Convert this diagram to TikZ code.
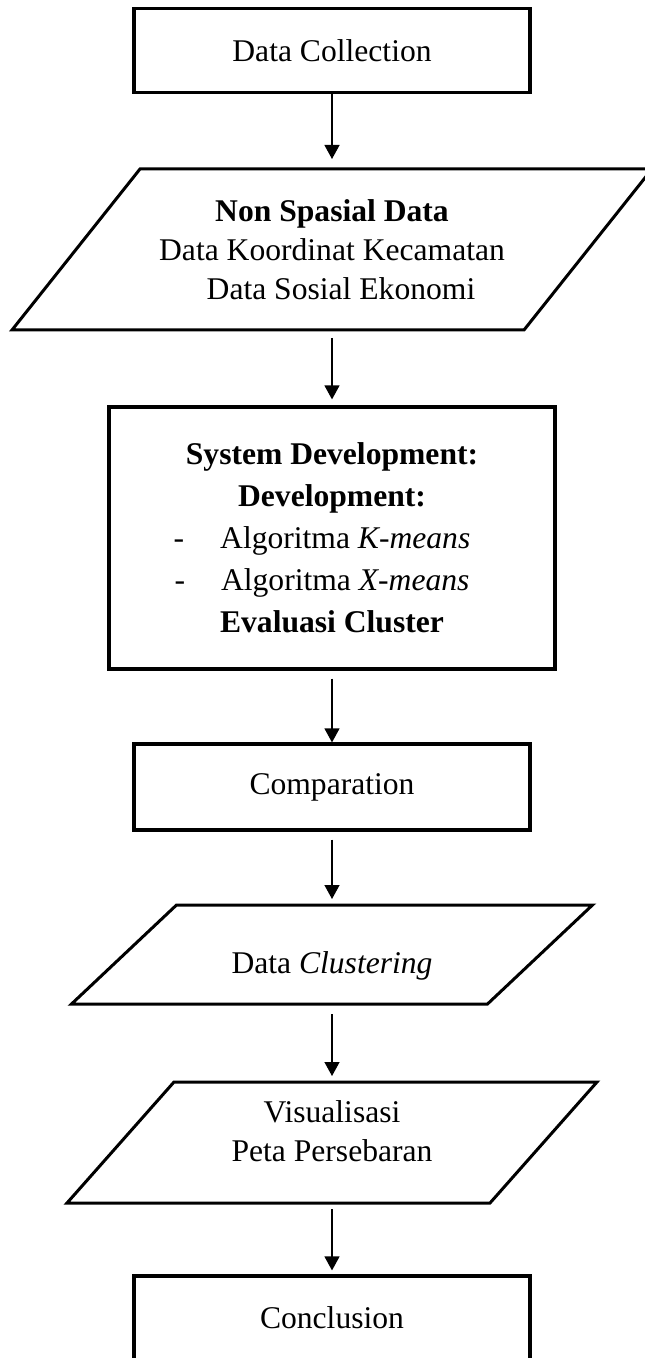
\documentclass[tikz,border=0pt]{standalone}
\usepackage{fontspec}
\setmainfont{Liberation Serif}
\usetikzlibrary{arrows.meta}

\begin{document}
\begin{tikzpicture}[node distance=100pt, >={Triangle[width=7.5pt,length=7pt]}, line width=0.65pt,
    font=\fontsize{15.8pt}{21pt}\selectfont]
    \tikzstyle{box}=[draw, line width=1.6pt, minimum width=198pt, minimum height=42pt, align=center]
    \tikzstyle{io}=[outer sep=0pt, align=center, font=\fontsize{15.8pt}{19.5pt}\selectfont]
    \tikzstyle{slant}=[line width=1.5pt, line join=miter]
    \useasboundingbox (0,0) rectangle (322pt,-679pt);
    \node[box] (collect) at (166pt,-25.25pt) {Data Collection};
    \node[io, below of=collect, yshift=0.5pt, minimum width=256pt, minimum height=80.5pt] (nonspasial) {\textbf{Non Spasial Data}\\Data Koordinat Kecamatan\\\hspace*{9pt}Data Sosial Ekonomi};
    \node[box, below of=nonspasial, yshift=-44.25pt, minimum width=223pt, minimum height=131pt] (sysdev) {\textbf{System Development:}\\\textbf{Development:}\\\hspace*{-10pt}-\hspace{18pt}Algoritma \textit{K-means}\\\hspace*{-10pt}-\hspace{18pt}Algoritma \textit{X-means}\\\textbf{Evaluasi Cluster}};
    \node[box, below of=sysdev, yshift=-24.5pt, minimum height=43pt] (compare) {Comparation};
    \node[io, below of=compare, yshift=16.25pt, minimum width=208pt, minimum height=49.5pt, text height=22pt] (clustering) {Data \textit{Clustering}};
    \node[io, below of=clustering, yshift=6pt, minimum width=211.5pt, minimum height=60.5pt, text depth=11pt] (visual) {Visualisasi\\Peta Persebaran};
    \node[box, below of=visual, yshift=12.25pt] (conclude) {Conclusion};
    % parallelogram outlines
    \draw[slant] ([xshift=32pt]nonspasial.north west) -- ([xshift=32pt]nonspasial.north east) -- ([xshift=-32pt]nonspasial.south east) -- ([xshift=-32pt]nonspasial.south west) -- cycle;
    \draw[slant] ([xshift=26.25pt]clustering.north west) -- ([xshift=26.25pt]clustering.north east) -- ([xshift=-26.25pt]clustering.south east) -- ([xshift=-26.25pt]clustering.south west) -- cycle;
    \draw[slant] ([xshift=26.75pt]visual.north west) -- ([xshift=26.75pt]visual.north east) -- ([xshift=-26.75pt]visual.south east) -- ([xshift=-26.75pt]visual.south west) -- cycle;
    \draw[->, shorten <=0pt, shorten >=5pt] (collect) -- (nonspasial);
    \draw[->, shorten <=4pt, shorten >=3pt] (nonspasial) -- (sysdev);
    \draw[->, shorten <=4pt, shorten >=0pt] (sysdev) -- (compare);
    \draw[->, shorten <=4pt, shorten >=3pt] (compare) -- (clustering);
    \draw[->, shorten <=5pt, shorten >=3pt] (clustering) -- (visual);
    \draw[->, shorten <=3pt, shorten >=2pt] (visual) -- (conclude);
\end{tikzpicture}
\end{document}
